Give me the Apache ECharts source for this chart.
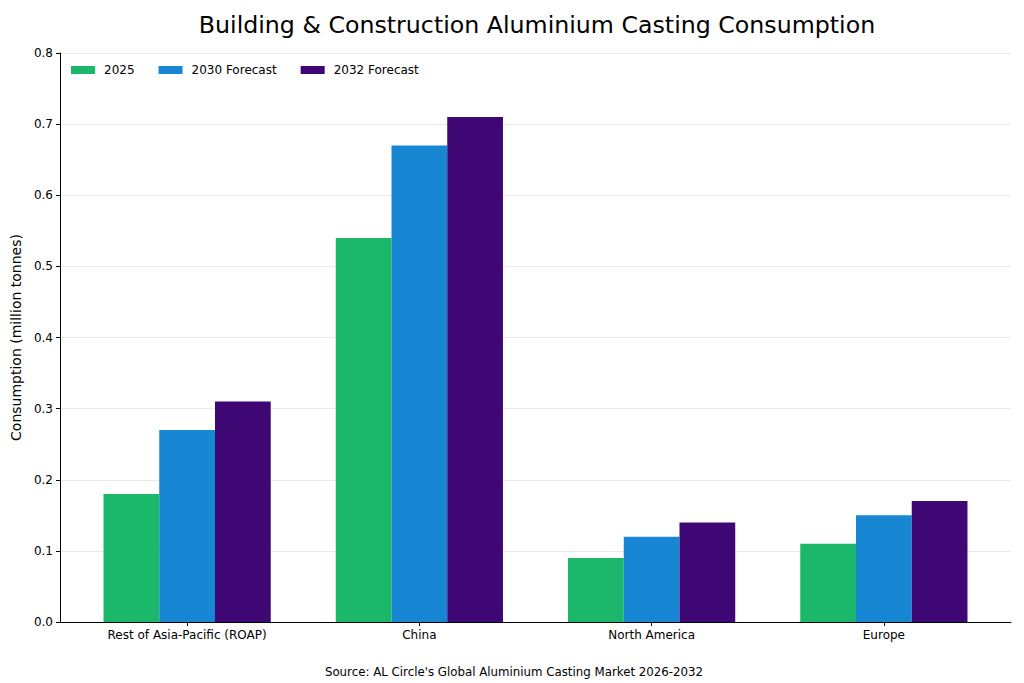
<!DOCTYPE html>
<html>
<head>
<meta charset="utf-8">
<script src="https://cdn.jsdelivr.net/npm/echarts@6/dist/echarts.min.js"></script>
<style>
  html, body { margin: 0; padding: 0; background: #fff; }
  #chart { width: 1024px; height: 683px; }
</style>
</head>
<body>
<div id="chart"></div>
<script>
"use strict"

const regions = ["Rest of Asia-Pacific (ROAP)", "China", "North America", "Europe"]
const values2025 = [0.18, 0.54, 0.09, 0.11]
const values2030 = [0.27, 0.67, 0.12, 0.15]
const values2032 = [0.31, 0.71, 0.14, 0.17]
const seriesNames = ["2025", "2030 Forecast", "2032 Forecast"]
const colors = ["#1bb76b", "#1787d3", "#3f0774"]

const font = "DejaVu Sans"
const chart = echarts.init(document.getElementById("chart"), null, { renderer: "svg" })

const barSeries = [values2025, values2030, values2032].map((vals, i) => ({
  name: seriesNames[i],
  type: "bar",
  xAxisIndex: 1,
  yAxisIndex: 1,
  data: vals,
  barWidth: "24%",
  barGap: "0%",
  itemStyle: { color: colors[i] },
}))

chart.setOption({
  animation: false,
  title: [
    {
      text: "Building & Construction Aluminium Casting Consumption",
      left: 532, top: 8, textAlign: "center",
      textStyle: { fontFamily: font, fontSize: 23.7, fontWeight: "normal", color: "#000" },
    },
    {
      text: "Source: AL Circle's Global Aluminium Casting Market 2026-2032",
      left: 509, top: 661, textAlign: "center",
      textStyle: { fontFamily: font, fontSize: 11.8, fontWeight: "normal", color: "#000" },
    },
  ],
  legend: {
    left: 71, top: 64, padding: 0,
    itemWidth: 24, itemHeight: 8, itemGap: 24,
    icon: "rect",
    data: seriesNames,
    textStyle: { fontFamily: font, fontSize: 12, color: "#000", padding: [0, 0, 0, 4] },
  },
  grid: [
    { left: 60, right: 13, top: 53, bottom: 61 },
    { left: 71, right: 24, top: 53, bottom: 61 },
  ],
  xAxis: [
    {
      type: "value", gridIndex: 0, min: 0, max: 1,
      axisLine: { show: true, lineStyle: { color: "#000", width: 1 } },
      axisTick: { show: false }, axisLabel: { show: false }, splitLine: { show: false },
    },
    {
      type: "category", gridIndex: 1, data: regions,
      axisLine: { show: false },
      axisTick: { show: true, alignWithLabel: true, length: 4, lineStyle: { color: "#000" } },
      axisLabel: { fontFamily: font, fontSize: 12, color: "#000", margin: 7 },
    },
  ],
  yAxis: [
    {
      type: "value", gridIndex: 0, min: 0, max: 0.8, interval: 0.1,
      name: "Consumption (million tonnes)", nameLocation: "middle", nameGap: 36,
      nameTextStyle: { fontFamily: font, fontSize: 14, color: "#000" },
      axisLine: { show: true, lineStyle: { color: "#000", width: 1 } },
      axisTick: { show: true, length: 4, lineStyle: { color: "#000" } },
      axisLabel: { fontFamily: font, fontSize: 12, color: "#000", margin: 7,
        formatter: (v) => v.toFixed(1) },
      splitLine: { show: true, lineStyle: { color: "#ebebeb", width: 1 } },
    },
    {
      type: "value", gridIndex: 1, min: 0, max: 0.8, interval: 0.1, show: false,
      splitLine: { show: false },
    },
  ],
  series: barSeries,
})
</script>
</body>
</html>
